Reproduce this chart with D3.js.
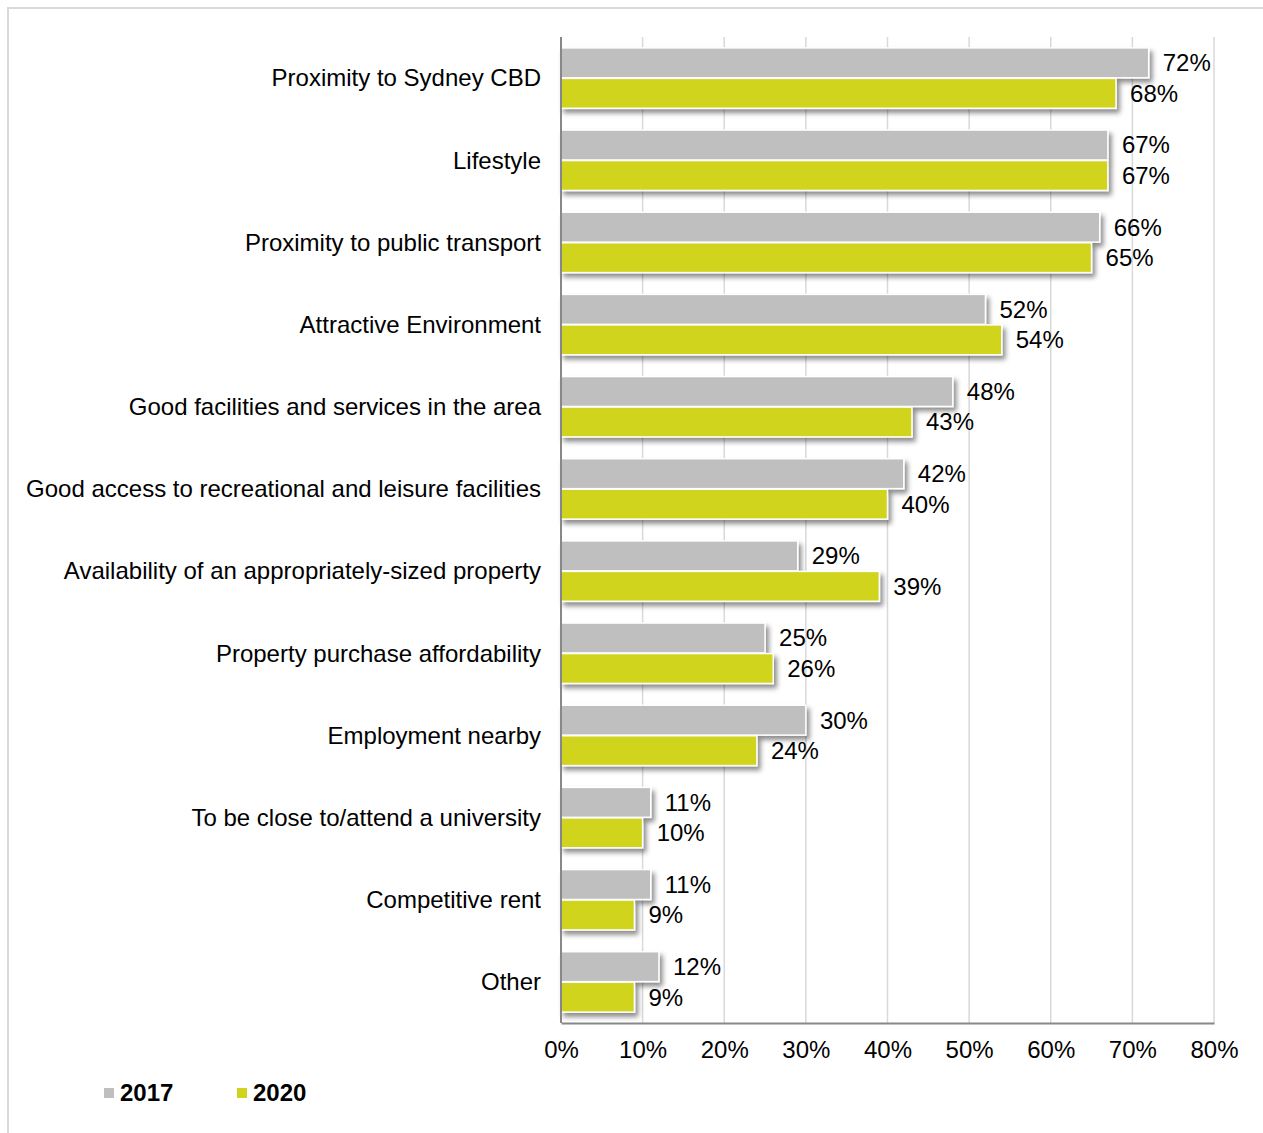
<!DOCTYPE html>
<html>
<head>
<meta charset="utf-8">
<script src="https://cdn.jsdelivr.net/npm/d3@7"></script>
<style>
  body { margin: 0; background: #fff; }
  svg text { font-family: "Liberation Sans", Arial, sans-serif; fill: #000; }
</style>
</head>
<body>
<div id="chart"></div>
<script>
const categories = [
  'Proximity to Sydney CBD',
  'Lifestyle',
  'Proximity to public transport',
  'Attractive Environment',
  'Good facilities and services in the area',
  'Good access to recreational and leisure facilities',
  'Availability of an appropriately-sized property',
  'Property purchase affordability',
  'Employment nearby',
  'To be close to/attend a university',
  'Competitive rent',
  'Other'
];
const values2017 = [72, 67, 66, 52, 48, 42, 29, 25, 30, 11, 11, 12];
const values2020 = [68, 67, 65, 54, 43, 40, 39, 26, 24, 10, 9, 9];
const seriesNames = ['2017', '2020'];
const tickValues = [0, 10, 20, 30, 40, 50, 60, 70, 80];

const colors = {'2017': '#bfbfbf', '2020': '#d1d41f'};
const fontSize = 24;

const width = 1263, height = 1133;
const margin = {top: 37, left: 561, right: 49, bottom: 110};
const innerW = width - margin.left - margin.right;
const innerH = height - margin.top - margin.bottom;

const svg = d3.select('#chart').append('svg')
  .attr('width', width)
  .attr('height', height);

// drop shadow for the bars
const defs = svg.append('defs');
const filter = defs.append('filter').attr('id', 'shadow')
  .attr('x', '-10%').attr('y', '-30%').attr('width', '130%').attr('height', '180%');
filter.append('feDropShadow')
  .attr('dx', 3).attr('dy', 4).attr('stdDeviation', 2.5)
  .attr('flood-color', '#000').attr('flood-opacity', 0.45);

// outer frame
svg.append('rect')
  .attr('x', 8).attr('y', 8)
  .attr('width', width + 10).attr('height', height + 10)
  .attr('fill', 'none').attr('stroke', '#d9d9d9').attr('stroke-width', 2);

const g = svg.append('g').attr('transform', `translate(${margin.left},${margin.top})`);

const x = d3.scaleLinear().domain([0, 80]).range([0, innerW]);
const y0 = d3.scaleBand().domain(categories).range([0, innerH]).paddingInner(0.25).paddingOuter(0.125);
const y1 = d3.scaleBand().domain(seriesNames).range([0, y0.bandwidth()]).padding(0.02);

// gridlines
g.append('g')
  .selectAll('line')
  .data(tickValues.slice(1))
  .join('line')
  .attr('x1', d => x(d)).attr('x2', d => x(d))
  .attr('y1', 0).attr('y2', innerH)
  .attr('stroke', '#d9d9d9').attr('stroke-width', 1.5);

// bars
const rows = categories.map((c, i) => ({cat: c, vals: [
  {s: '2017', v: values2017[i]},
  {s: '2020', v: values2020[i]}
]}));

const groups = g.selectAll('.grp')
  .data(rows)
  .join('g')
  .attr('class', 'grp')
  .attr('transform', d => `translate(0,${y0(d.cat)})`);

groups.selectAll('rect')
  .data(d => d.vals)
  .join('rect')
  .attr('x', 0)
  .attr('y', d => y1(d.s))
  .attr('width', d => x(d.v))
  .attr('height', y1.bandwidth())
  .attr('fill', d => colors[d.s])
  .attr('stroke', '#fff')
  .attr('stroke-width', 1.5)
  .attr('filter', 'url(#shadow)');

groups.selectAll('text.val')
  .data(d => d.vals)
  .join('text')
  .attr('class', 'val')
  .attr('x', d => x(d.v) + 14)
  .attr('y', d => y1(d.s) + y1.bandwidth() / 2)
  .attr('dy', '0.35em')
  .attr('font-size', fontSize)
  .text(d => d.v + '%');

// y axis labels
g.selectAll('text.cat')
  .data(categories)
  .join('text')
  .attr('class', 'cat')
  .attr('x', -20)
  .attr('y', d => y0(d) + y0.bandwidth() / 2)
  .attr('dy', '0.35em')
  .attr('text-anchor', 'end')
  .attr('font-size', fontSize)
  .text(d => d);

// x axis
const xAxis = g.append('g')
  .attr('transform', `translate(0,${innerH})`)
  .call(d3.axisBottom(x).tickValues(tickValues).tickSize(0).tickPadding(18).tickFormat(d => d + '%'));
xAxis.select('.domain').attr('stroke', '#888').attr('stroke-width', 2);
xAxis.selectAll('text').attr('font-size', fontSize).attr('font-family', '"Liberation Sans", Arial, sans-serif');

// left axis line
g.append('line')
  .attr('x1', 0).attr('x2', 0).attr('y1', 0).attr('y2', innerH)
  .attr('stroke', '#888').attr('stroke-width', 2);

// legend
const legend = svg.append('g').attr('transform', 'translate(104,1093)');
const li = legend.selectAll('g')
  .data(seriesNames)
  .join('g')
  .attr('transform', (d, i) => `translate(${i * 133},0)`);
li.append('rect')
  .attr('x', 0).attr('y', -5).attr('width', 10).attr('height', 10)
  .attr('fill', d => colors[d]);
li.append('text')
  .attr('x', 16).attr('dy', '0.35em')
  .attr('font-size', fontSize).attr('font-weight', 'bold')
  .text(d => d);
</script>
</body>
</html>
